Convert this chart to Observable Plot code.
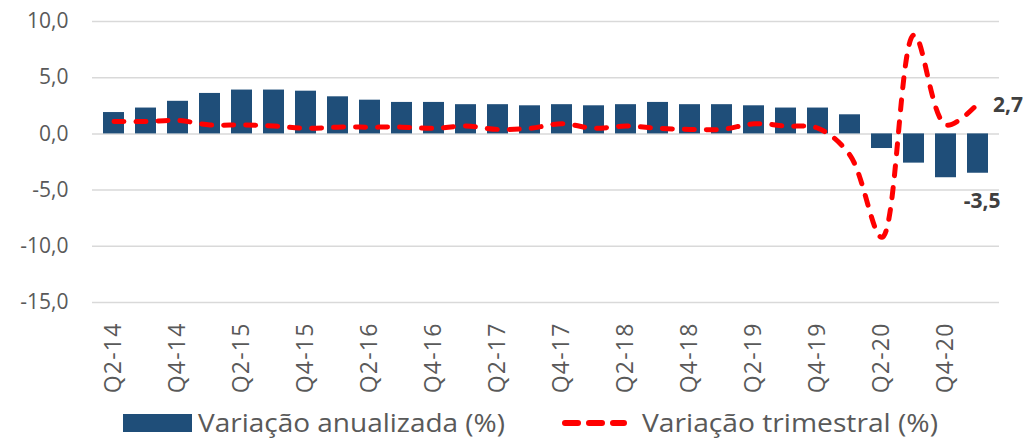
<!DOCTYPE html>
<html>
<head>
<meta charset="utf-8">
<script src="https://cdn.jsdelivr.net/npm/d3@7"></script>
<script src="https://cdn.jsdelivr.net/npm/@observablehq/plot@0.6"></script>
<style>
  body { margin: 0; background: #fff; font-family: "Open Sans", sans-serif; }
  #chart svg { display: block; }
  #legend { display: block; }
</style>
</head>
<body>
<div id="chart"></div>
<svg id="legend" width="1028" height="39"></svg>
<script>
const quarters = ["Q2-14","Q3-14","Q4-14","Q1-15","Q2-15","Q3-15","Q4-15","Q1-16","Q2-16","Q3-16","Q4-16","Q1-17","Q2-17","Q3-17","Q4-17","Q1-18","Q2-18","Q3-18","Q4-18","Q1-19","Q2-19","Q3-19","Q4-19","Q1-20","Q2-20","Q3-20","Q4-20","Q1-21"];
const annualized = [1.9,2.3,2.9,3.6,3.9,3.9,3.8,3.3,3.0,2.8,2.8,2.6,2.6,2.5,2.6,2.5,2.6,2.8,2.6,2.6,2.5,2.3,2.3,1.7,-1.3,-2.6,-3.9,-3.5];
const quarterly = [1.1,1.1,1.2,0.8,0.8,0.7,0.5,0.6,0.6,0.6,0.5,0.7,0.4,0.5,0.9,0.5,0.7,0.5,0.4,0.4,0.9,0.7,0.5,-1.9,-9.2,8.8,0.8,2.7];
const yTicks = [-15,-10,-5,0,5,10];
const xTickLabels = ["Q2-14","Q4-14","Q2-15","Q4-15","Q2-16","Q4-16","Q2-17","Q4-17","Q2-18","Q4-18","Q2-19","Q4-19","Q2-20","Q4-20"];
const seriesNames = ["Variação anualizada (%)", "Variação trimestral (%)"];

const fmt = v => d3.format(".1f")(v).replace(".", ",").replace("−", "-");
const rows = quarters.map((q, i) => ({q, a: annualized[i], t: quarterly[i]}));
const last = [rows[rows.length - 1]];

const plot = Plot.plot({
  width: 1028,
  height: 400,
  marginLeft: 92,
  marginRight: 29,
  marginTop: 21,
  marginBottom: 98,
  style: {fontFamily: "Open Sans, sans-serif", background: "#fff"},
  x: {domain: quarters, padding: 0.34, range: [86.5, 1004.7], label: null},
  y: {domain: [-15, 10], label: null},
  marks: [
    Plot.gridY(yTicks, {stroke: "#d9d9d9", strokeOpacity: 1, strokeWidth: 1.5}),
    Plot.axisY(yTicks, {tickSize: 0, tickPadding: 24, tickFormat: fmt, fontSize: 21, fill: "#595959"}),
    Plot.axisX(xTickLabels, {tickSize: 0, tickPadding: 20, tickRotate: -90, fontSize: 23, fill: "#595959"}),
    Plot.barY(rows, {x: "q", y: "a", fill: "#1f4e79"}),
    Plot.line(rows, {x: "q", y: "t", stroke: "#ff0000", strokeWidth: 5, strokeDasharray: "10,12", strokeLinecap: "round", curve: "catmull-rom"}),
    Plot.text(last, {x: "q", y: "t", text: d => fmt(d.t), textAnchor: "start", dx: 15, dy: 2, fontSize: 21, fontWeight: "bold", fill: "#404040"}),
    Plot.text(last, {x: "q", y: "a", text: d => fmt(d.a), textAnchor: "middle", dx: 4, dy: 28, fontSize: 21, fontWeight: "bold", fill: "#404040"})
  ]
});
document.getElementById("chart").appendChild(plot);

// slightly spaced quarter labels, as in the reference
d3.select(plot).selectAll('g[aria-label="x-axis tick label"]')
  .attr("font-size", 23)
  .style("letter-spacing", "1.2px");

// Legend
const lg = d3.select("#legend");
lg.append("rect").attr("x", 123).attr("y", 14).attr("width", 69).attr("height", 18).attr("fill", "#1f4e79");
lg.append("text").attr("x", 198).attr("y", 32).attr("font-size", 26).attr("fill", "#595959")
  .attr("font-family", "Open Sans, sans-serif")
  .attr("textLength", 307).attr("lengthAdjust", "spacingAndGlyphs").text(seriesNames[0]);
lg.append("line").attr("x1", 565).attr("x2", 624).attr("y1", 23).attr("y2", 23)
  .attr("stroke", "#ff0000").attr("stroke-width", 6).attr("stroke-linecap", "round").attr("stroke-dasharray", "13,11");
lg.append("text").attr("x", 642).attr("y", 32).attr("font-size", 26).attr("fill", "#595959")
  .attr("font-family", "Open Sans, sans-serif")
  .attr("textLength", 296).attr("lengthAdjust", "spacingAndGlyphs").text(seriesNames[1]);
</script>
</body>
</html>
